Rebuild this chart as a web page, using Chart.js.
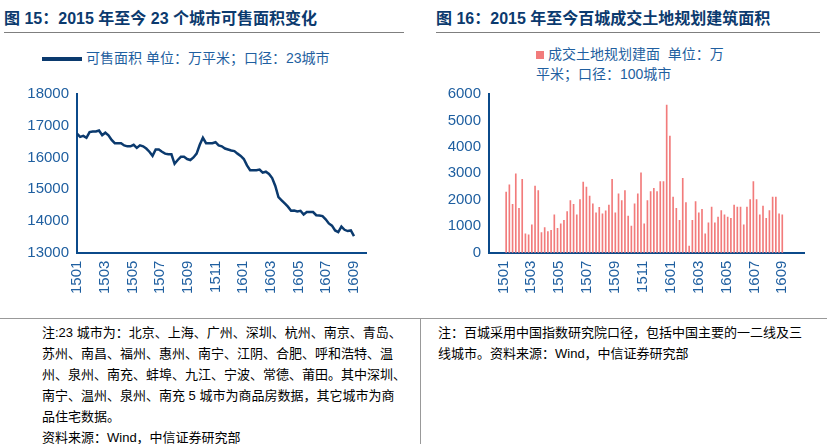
<!DOCTYPE html>
<html><head><meta charset="utf-8">
<script src="https://cdn.jsdelivr.net/npm/chart.js@4"></script>
<style>
body{margin:0;width:827px;height:444px;background:#fff;font-family:"Liberation Sans","Noto Sans CJK SC",sans-serif;position:relative;overflow:hidden}
.t{position:absolute;color:#0b3a6e;font-weight:bold;font-size:16px;top:5px;border-bottom:1px solid #7f7f7f;padding-bottom:3px}
.lg{position:absolute;color:#1f5fa0;font-size:14px}
.note{position:absolute;font-size:13px;line-height:21px;color:#000}
canvas{position:absolute}
</style></head><body>
<div class="t" style="left:4px;width:400px">图 15：2015 年至今 23 个城市可售面积变化</div>
<div class="t" style="left:436px;width:384px">图 16：2015 年至今百城成交土地规划建筑面积</div>
<div class="lg" style="left:42px;top:47px"><span style="display:inline-block;width:40px;height:4px;background:#0b3a6e;vertical-align:middle;margin-right:4px"></span>可售面积 单位：万平米；口径：23城市</div>
<div class="lg" style="left:536px;top:44px;width:190px;line-height:20px"><span style="display:inline-block;width:8px;height:8px;background:#f27b7b;margin-right:4px"></span>成交土地规划建面 &nbsp;单位：万平米；口径：100城市</div>
<div style="position:absolute;left:0;top:318px;width:827px;border-top:1px solid #999"></div>
<div style="position:absolute;left:420px;top:318px;height:126px;border-left:1px solid #999"></div>
<div class="note" style="left:42px;top:322px;width:365px">注:23 城市为：北京、上海、广州、深圳、杭州、南京、青岛、苏州、南昌、福州、惠州、南宁、江阴、合肥、呼和浩特、温州、泉州、南充、蚌埠、九江、宁波、常德、莆田。其中深圳、南宁、温州、泉州、南充 5 城市为商品房数据，其它城市为商品住宅数据。<br>资料来源：Wind，中信证券研究部</div>
<div class="note" style="left:438px;top:322px;width:370px">注：百城采用中国指数研究院口径，包括中国主要的一二线及三线城市。资料来源：Wind，中信证券研究部</div>
<canvas id="c1" style="left:10px;top:82px;width:365px;height:215px"></canvas>
<canvas id="c2" style="left:430px;top:82px;width:375px;height:215px"></canvas>
<script>
const monthLabels=['1501','1502','1503','1504','1505','1506','1507','1508','1509','1510','1511','1512','1601','1602','1603','1604','1605','1606','1607','1608','1609'];
const stockValues=[16750,16650,16680,16620,16800,16820,16820,16850,16700,16780,16700,16550,16450,16450,16450,16380,16350,16350,16400,16300,16380,16350,16280,16180,16050,16250,16250,16180,16120,16100,16100,15800,15920,16020,16020,15950,15920,16000,16120,16400,16620,16450,16450,16450,16480,16380,16350,16280,16250,16220,16200,16120,16050,15950,15750,15600,15600,15600,15620,15520,15550,15480,15350,15100,14750,14650,14550,14450,14320,14330,14300,14320,14200,14280,14280,14280,14180,14170,14150,14050,13920,13850,13700,13650,13820,13720,13680,13700,13520];
const landValues=[2290,2560,1830,2980,1680,2770,710,670,1050,2520,2350,760,950,800,840,1430,920,1090,1220,1550,1970,1830,1430,2010,2670,2480,2140,1850,1510,1710,1470,1580,1800,2770,1510,2220,1970,2350,1380,1000,1850,2220,3020,1090,1970,2310,2430,2310,2690,2690,5580,4410,2100,1680,1220,2810,1890,250,1220,1930,1510,1640,710,1130,1720,1130,1340,1590,1430,1340,1300,1800,1720,1720,1050,1720,2010,2690,2010,1430,1760,1300,1590,2100,2100,1470,1430];
const axisCol='#0b4a8a',tickCol='#1f5fa0';
const toPts=(vals,start,end)=>vals.map((v,i)=>({x:start+(end-start)*i/(vals.length-1),y:v}));
function xScale(max){return{type:'linear',min:0,max:max,grid:{display:false,drawTicks:true,tickLength:5,color:axisCol},border:{color:axisCol,width:2},
 afterBuildTicks:s=>{s.ticks=monthLabels.map((l,i)=>({value:i})).filter(t=>t.value%2===0);},
 ticks:{color:tickCol,font:{size:15},maxRotation:90,minRotation:90,autoSkip:false,callback:v=>monthLabels[v]}};}
function yScale(min,max,step,w){return{min:min,max:max,grid:{display:false,tickLength:5,color:axisCol},border:{color:axisCol,width:2},
 afterFit:s=>{s.width=w;},ticks:{stepSize:step,color:tickCol,font:{size:15},callback:v=>String(v)}};}
new Chart(document.getElementById('c1'),{type:'line',
 data:{datasets:[{data:toPts(stockValues,0,20),borderColor:'#0b3a6e',borderWidth:2.5,pointRadius:0,tension:0}]},
 options:{animation:false,responsive:false,plugins:{legend:{display:false},tooltip:{enabled:false}},layout:{padding:{top:8}},
  scales:{x:xScale(20.9),y:yScale(13000,18000,1000,67)}}});
new Chart(document.getElementById('c2'),{type:'bar',
 data:{datasets:[{data:toPts(landValues,0.2,20),backgroundColor:'#f27b7b',barThickness:1}]},
 options:{animation:false,responsive:false,plugins:{legend:{display:false},tooltip:{enabled:false}},layout:{padding:{top:8}},
  scales:{x:xScale(20.6),y:yScale(0,6000,1000,59)}}});
</script></body></html>
